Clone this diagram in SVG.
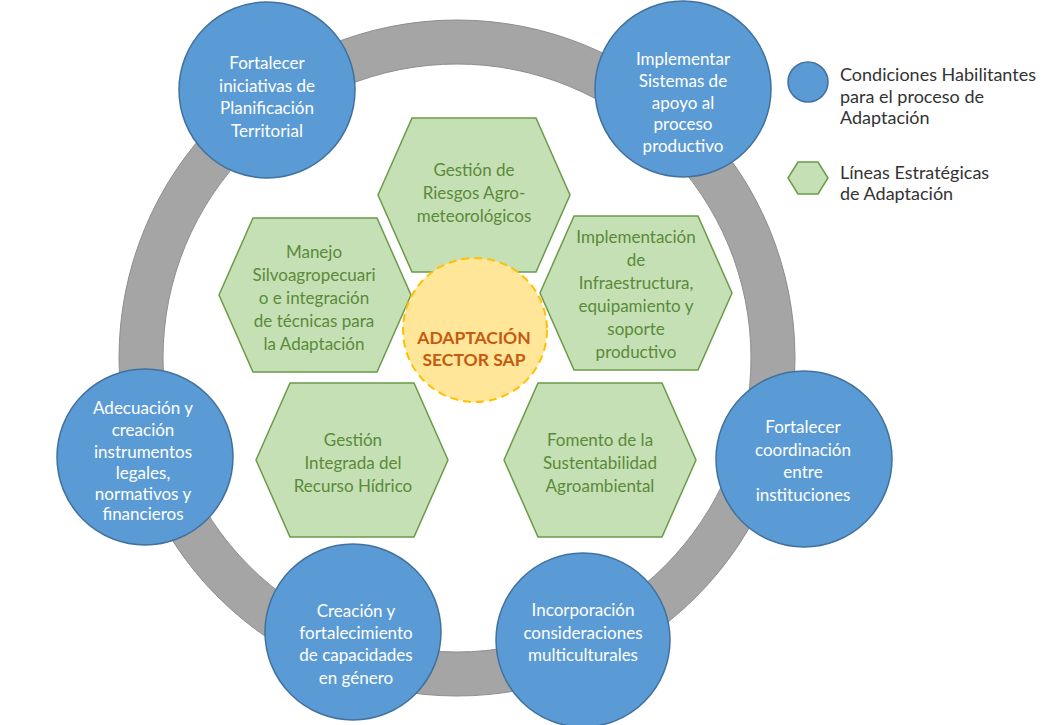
<svg xmlns="http://www.w3.org/2000/svg" width="1044" height="725" viewBox="0 0 1044 725">
<style>
.ring{fill:none;stroke:#a5a5a5;stroke-width:44}
.ringedge{fill:none;stroke:#8e8e8e;stroke-width:1}
.cond{fill:#5b9bd5;stroke:#41719c;stroke-width:1.5}
.hex{fill:#c5e0b4;stroke:#6a9a4a;stroke-width:1.5}
.ct{font-family:Lato,"Open Sans",sans-serif;font-size:17px;fill:#ffffff;text-anchor:middle}
.ht{font-family:Lato,"Open Sans",sans-serif;font-size:17px;fill:#5a8a3a;text-anchor:middle}
.lt{font-family:Lato,"Open Sans",sans-serif;font-size:18px;fill:#333333}
.core{fill:#ffe699;stroke:#ffc000;stroke-width:2;stroke-dasharray:8 5}
.coret{font-family:Lato,"Open Sans",sans-serif;font-size:17.5px;font-weight:bold;fill:#c55a11;text-anchor:middle}
</style>
<defs>
<polygon id="hx" points="-96,0 -62,-77 62,-77 96,0 62,77 -62,77"/>
</defs>
<rect width="1044" height="725" fill="#ffffff"/>
<g id="connectors">
<circle class="ring" cx="457" cy="358" r="316"/>
<circle class="ringedge" cx="457" cy="358" r="338"/>
<circle class="ringedge" cx="457" cy="358" r="294"/>
</g>
<g id="h1"><use href="#hx" class="hex" x="474" y="195"/>
<text class="ht"><tspan x="474" y="176">Gestión de</tspan><tspan x="474" y="199">Riesgos Agro-</tspan><tspan x="474" y="222">meteorológicos</tspan></text></g>
<g id="h2"><use href="#hx" class="hex" x="315" y="295"/>
<text class="ht"><tspan x="314" y="258">Manejo</tspan><tspan x="314" y="281">Silvoagropecuari</tspan><tspan x="314" y="304">o e integración</tspan><tspan x="314" y="327">de técnicas para</tspan><tspan x="314" y="350">la Adaptación</tspan></text></g>
<g id="h3"><use href="#hx" class="hex" x="636" y="293"/>
<text class="ht"><tspan x="636" y="243">Implementación</tspan><tspan x="636" y="266">de</tspan><tspan x="636" y="289">Infraestructura,</tspan><tspan x="636" y="312">equipamiento y</tspan><tspan x="636" y="335">soporte</tspan><tspan x="636" y="358">productivo</tspan></text></g>
<g id="h4"><use href="#hx" class="hex" x="352" y="460"/>
<text class="ht"><tspan x="353" y="446">Gestión</tspan><tspan x="353" y="469">Integrada del</tspan><tspan x="353" y="492">Recurso Hídrico</tspan></text></g>
<g id="h5"><use href="#hx" class="hex" x="600" y="460"/>
<text class="ht"><tspan x="600" y="446">Fomento de la</tspan><tspan x="600" y="469">Sustentabilidad</tspan><tspan x="600" y="492">Agroambiental</tspan></text></g>
<g id="core"><circle class="core" cx="475" cy="330" r="72"/>
<text class="coret"><tspan x="474" y="344">ADAPTACIÓN</tspan><tspan x="474" y="366">SECTOR SAP</tspan></text></g>
<g id="c1"><circle class="cond" cx="267" cy="90" r="88"/>
<text class="ct"><tspan x="267" y="69">Fortalecer</tspan><tspan x="267" y="92">iniciativas de</tspan><tspan x="267" y="114">Planificación</tspan><tspan x="267" y="137">Territorial</tspan></text></g>
<g id="c2"><circle class="cond" cx="683" cy="89" r="88"/>
<text class="ct"><tspan x="683" y="65">Implementar</tspan><tspan x="683" y="87">Sistemas de</tspan><tspan x="683" y="109">apoyo al</tspan><tspan x="683" y="130">proceso</tspan><tspan x="683" y="152">productivo</tspan></text></g>
<g id="c3"><circle class="cond" cx="804" cy="459" r="88"/>
<text class="ct"><tspan x="803" y="433">Fortalecer</tspan><tspan x="803" y="456">coordinación</tspan><tspan x="803" y="478">entre</tspan><tspan x="803" y="501">instituciones</tspan></text></g>
<g id="c4"><circle class="cond" cx="583" cy="640" r="87"/>
<text class="ct"><tspan x="583" y="616">Incorporación</tspan><tspan x="583" y="639">consideraciones</tspan><tspan x="583" y="661">multiculturales</tspan></text></g>
<g id="c5"><circle class="cond" cx="353" cy="632" r="88"/>
<text class="ct"><tspan x="356" y="617">Creación y</tspan><tspan x="356" y="639">fortalecimiento</tspan><tspan x="356" y="661">de capacidades</tspan><tspan x="356" y="684">en género</tspan></text></g>
<g id="c6"><circle class="cond" cx="145" cy="457" r="88"/>
<text class="ct"><tspan x="143" y="414">Adecuación y</tspan><tspan x="143" y="436">creación</tspan><tspan x="143" y="458">instrumentos</tspan><tspan x="143" y="479">legales,</tspan><tspan x="143" y="500">normativos y</tspan><tspan x="143" y="520">financieros</tspan></text></g>
<g id="legend">
<circle class="cond" cx="808" cy="82" r="20"/>
<polygon class="hex" points="788,178 798,162 818,162 828,178 818,194 798,194"/>
<text class="lt"><tspan x="840" y="81">Condiciones Habilitantes</tspan><tspan x="840" y="103">para el proceso de</tspan><tspan x="840" y="124">Adaptación</tspan></text>
<text class="lt"><tspan x="840" y="179">Líneas Estratégicas</tspan><tspan x="840" y="200">de Adaptación</tspan></text>
</g>
</svg>
